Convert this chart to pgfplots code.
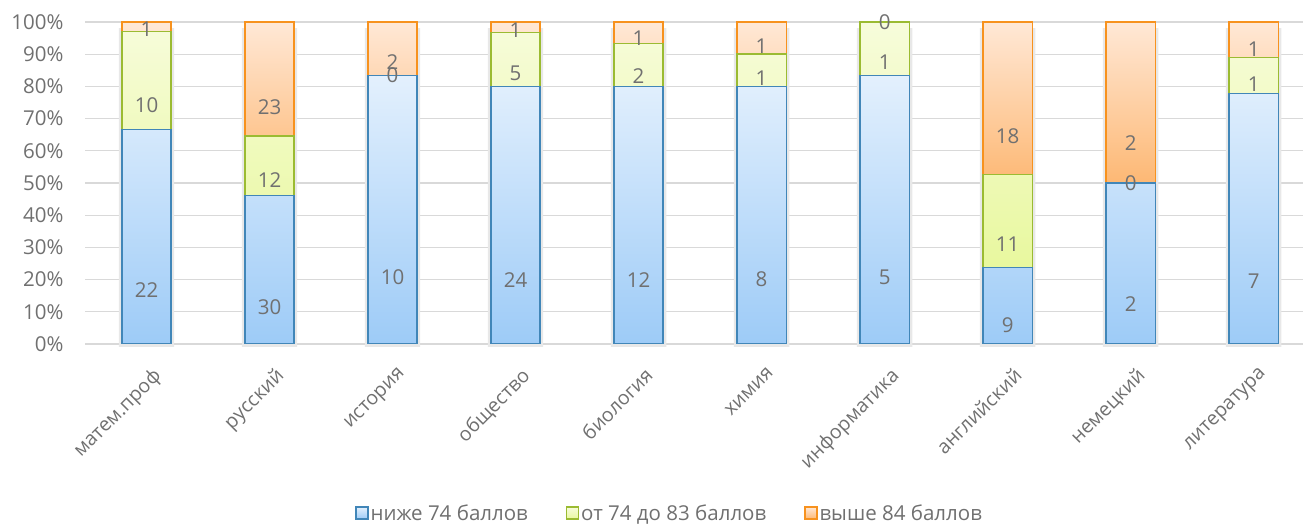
\documentclass[border=0pt]{standalone}
\usepackage{pgfplots}
\usepackage{pgfplotstable}
\pgfplotsset{compat=1.18}
\usepackage{fontspec}
\setmainfont{Open Sans}

\definecolor{txt}{HTML}{707070}
\definecolor{gridc}{HTML}{D9D9D9}
\definecolor{bTop}{HTML}{E3F0FD}
\definecolor{bBot}{HTML}{9DCBF7}
\definecolor{bLine}{HTML}{4186B8}
\definecolor{gTop}{HTML}{F7FCDB}
\definecolor{gBot}{HTML}{E8F89E}
\definecolor{gLine}{HTML}{9BBB32}
\definecolor{oTop}{HTML}{FFE8D6}
\definecolor{oBot}{HTML}{FDB874}
\definecolor{oLine}{HTML}{F7921E}

\newcommand\f{\fontsize{20.5}{24}\selectfont}
\newcommand\fx{\fontsize{19.5}{23}\selectfont}

% pa/pb/pc = share in %, ca/cb/cc = number of students
\pgfplotstableread{
x  pa      ca  pb      cb  pc      cc
0  66.667  22  30.303  10  3.030   1
1  46.154  30  18.462  12  35.384  23
2  83.333  10  0       0   16.667  2
3  80      24  16.667  5   3.333   1
4  80      12  13.333  2   6.667   1
5  80      8   10      1   10      1
6  83.333  5   16.667  1   0       0
7  23.684  9   28.947  11  47.369  18
8  50      2   0       0   50      2
9  77.778  7   11.111  1   11.111  1
}\data

\pgfplotsset{
  common/.style={
    at={(85pt,182pt)}, anchor=south west,
    scale only axis, width=1218pt, height=322pt,
    xmin=-0.5, xmax=9.4, ymin=0, ymax=100,
    axis line style={draw=none},
    major tick length=0pt,
    /pgf/number format/assume math mode=true,
  },
}

\begin{document}
\begin{tikzpicture}
\path (0,0) rectangle (1308pt,526pt);

% grid and soft shadow behind the bars
\begin{axis}[common,
  xtick=\empty, ytick={0,10,...,100}, yticklabels={},
  ymajorgrids, grid style={gridc, line width=1.3pt},
  clip=false,
]
\addplot[ybar, bar width=0.45, fill=black!9, draw=none, yshift=-3pt]
  coordinates {(0,99) (1,99) (2,99) (3,99) (4,99) (5,99) (6,99) (7,99) (8,99) (9,99)};
\end{axis}

\begin{axis}[common,
  ybar stacked, bar width=0.4,
  xtick={0,...,9},
  xticklabels={матем.проф, русский, история, общество, биология, химия, информатика, английский, немецкий, литература},
  x tick label style={rotate=45, anchor=north east, font=\fx, text=txt, xshift=-9pt, yshift=-16pt},
  ytick={0,10,...,100},
  yticklabel={\pgfmathprintnumber{\tick}\%},
  y tick label style={font=\f, text=txt, xshift=-18pt},
  point meta=explicit,
  nodes near coords={\pgfmathprintnumber{\pgfplotspointmeta}},
  every node near coord/.append style={font=\f, text=txt, anchor=center,
    shift={(axis direction cs:0,\segh)}},
  legend style={at={(0.48,-0.525)}, anchor=center, draw=none, fill=none,
    legend columns=3, font=\f, text=txt,
    /tikz/every even column/.append style={column sep=36pt}},
  legend image code/.code={\draw[#1, line width=1.3pt] (0pt,-6pt) rectangle (12pt,6pt);},
]
\addplot[top color=bTop, bottom color=bBot, draw=bLine, line width=1.4pt, forget plot,
  visualization depends on={-0.25*\thisrow{pa} \as \segh}]
  table[x=x, y=pa, meta=ca] \data;
\addplot[top color=gTop, bottom color=gBot, draw=gLine, line width=1.4pt, forget plot,
  visualization depends on={-0.25*\thisrow{pb} \as \segh}]
  table[x=x, y=pb, meta=cb] \data;
\addplot[top color=oTop, bottom color=oBot, draw=oLine, line width=1.4pt, forget plot,
  visualization depends on={-0.25*\thisrow{pc} \as \segh}]
  table[x=x, y=pc, meta=cc] \data;

\addlegendimage{top color=bTop, bottom color=bBot, draw=bLine}
\addlegendentry{ниже 74 баллов}
\addlegendimage{top color=gTop, bottom color=gBot, draw=gLine}
\addlegendentry{от 74 до 83 баллов}
\addlegendimage{top color=oTop, bottom color=oBot, draw=oLine}
\addlegendentry{выше 84 баллов}
\end{axis}

% labels of the empty (zero) segments, at the segment boundary
\begin{axis}[common, xtick=\empty, ytick=\empty, clip=false,
  point meta=explicit symbolic, nodes near coords,
  every node near coord/.append style={font=\f, text=txt, anchor=center}]
\addplot[draw=none, mark=none] coordinates {(2,83.333)[0] (6,100)[0] (8,50)[0]};
\end{axis}
\end{tikzpicture}
\end{document}
